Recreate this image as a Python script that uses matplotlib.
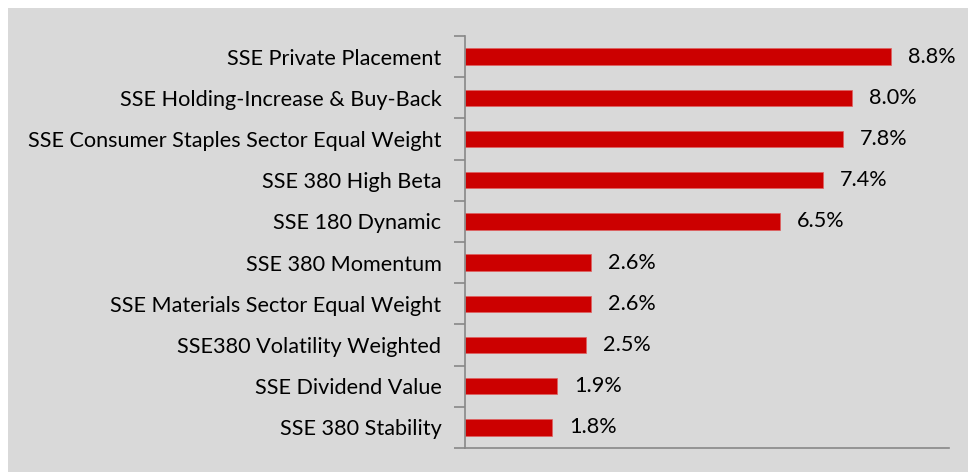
import matplotlib.pyplot as plt
from matplotlib.patches import Rectangle

categories = [
    "SSE Private Placement",
    "SSE Holding-Increase & Buy-Back",
    "SSE Consumer Staples Sector Equal Weight",
    "SSE 380 High Beta",
    "SSE 180 Dynamic",
    "SSE 380 Momentum",
    "SSE Materials Sector Equal Weight",
    "SSE380 Volatility Weighted",
    "SSE Dividend Value",
    "SSE 380 Stability",
]
values = [8.8, 8.0, 7.8, 7.4, 6.5, 2.6, 2.6, 2.5, 1.9, 1.8]

W, H = 968, 472
fig = plt.figure(figsize=(W / 100, H / 100), dpi=100, facecolor="white")
fig.patches.append(Rectangle((8 / W, 0), 1 - 8 / W, 1 - 8 / H,
                             transform=fig.transFigure, facecolor="#d9d9d9",
                             edgecolor="none", zorder=-5))

ax = fig.add_axes([465 / W, 24 / H, 484 / W, 412 / H])
ax.set_facecolor("none")

ypos = list(range(len(categories)))
ax.barh(ypos, values, height=0.4, color="#cc0000", edgecolor="#e06060", linewidth=0.5)
for y, v in zip(ypos, values):
    ax.annotate(f"{v:.1f}%", (v, y), xytext=(17, 0), textcoords="offset pixels",
                va="center", ha="left", fontsize=15.6, family="Lato", color="black")

ax.set_xlim(0, 10)
ax.set_ylim(len(categories) - 0.5, -0.5)
ax.set_xticks([])
ax.set_yticks([i - 0.5 for i in range(len(categories) + 1)])
ax.set_yticklabels([])
ax.set_yticks(ypos, minor=True)
ax.set_yticklabels(categories, minor=True, fontsize=15.6, family="Lato")
ax.tick_params(axis="y", which="major", length=8, width=1.2, color="#888888", direction="out")
ax.tick_params(axis="y", which="minor", length=0, pad=17)

for s in ["top", "right"]:
    ax.spines[s].set_visible(False)
for s in ["left", "bottom"]:
    ax.spines[s].set_color("#888888")
    ax.spines[s].set_linewidth(1.2)

fig.savefig("out.png", dpi=100, facecolor=fig.get_facecolor())
